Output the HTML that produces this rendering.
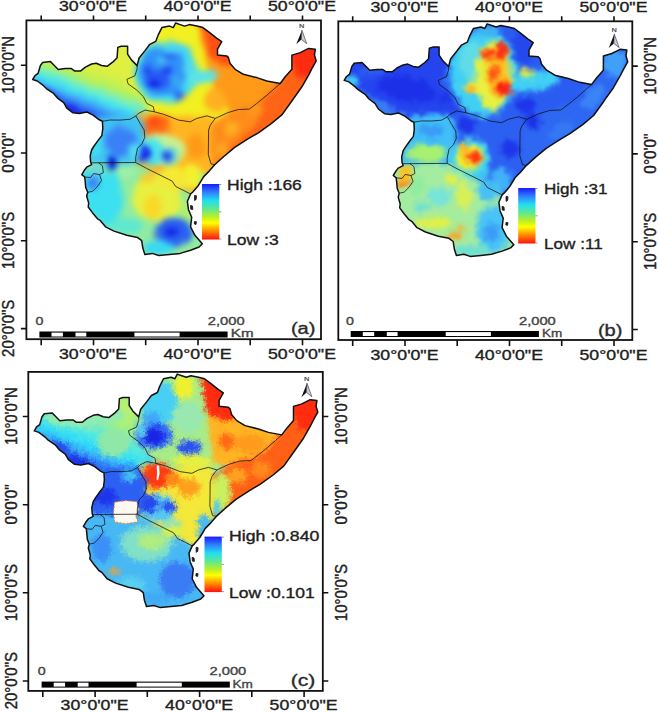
<!DOCTYPE html><html><head><meta charset="utf-8"><style>html,body{margin:0;padding:0;background:#fff;}svg{display:block}</style></head><body>
<svg width="658" height="712" viewBox="0 0 658 712">
<defs>
<clipPath id="clipmap"><path d="M32.7,79.5 L35.0,75.6 L38.1,73.3 L40.4,65.5 L42.7,62.4 L50.5,61.6 L53.6,64.7 L58.2,69.4 L65.2,68.6 L71.4,68.6 L74.5,70.9 L80.7,70.9 L85.4,67.1 L91.6,64.0 L96.2,63.2 L101.6,65.5 L107.1,66.3 L113.3,61.6 L117.1,57.8 L117.8,47.4 L121.2,46.2 L127.6,46.2 L127.6,54.2 L131.4,59.9 L137.1,65.6 L139.1,58.0 L145.2,50.4 L149.8,44.3 L155.8,41.3 L158.1,35.2 L161.9,27.6 L169.5,26.1 L173.3,27.6 L175.6,23.0 L180.2,24.6 L184.7,26.1 L189.3,24.6 L196.9,26.1 L202.9,27.6 L209.0,32.2 L216.6,38.2 L221.7,41.7 L217.5,49.2 L217.5,55.1 L226.7,55.9 L228.4,57.6 L230.1,63.4 L235.1,69.3 L243.4,74.3 L256.8,77.6 L266.8,81.0 L280.2,83.5 L285.2,76.8 L291.9,69.3 L291.9,55.1 L300.3,52.6 L308.6,48.4 L315.3,49.2 L314.5,55.1 L316.2,60.9 L312.0,68.4 L308.6,75.1 L301.9,86.8 L293.6,98.5 L291.3,101.8 L282.1,114.6 L271.2,123.7 L258.4,132.8 L247.5,139.2 L234.7,147.4 L223.8,156.5 L214.7,164.7 L209.2,171.1 L203.7,176.6 L198.2,185.7 L192.8,192.0 L190.6,194.0 L187.4,201.3 L188.5,209.8 L191.7,217.2 L190.6,226.8 L194.9,235.3 L202.3,243.8 L199.1,247.0 L190.6,250.2 L180.0,253.4 L169.4,254.5 L158.7,255.5 L152.3,253.4 L144.9,254.5 L142.8,248.1 L141.7,240.6 L137.4,237.4 L126.8,235.3 L114.0,231.1 L105.5,226.8 L100.2,220.4 L97.5,218.8 L92.6,212.9 L88.2,207.0 L88.7,203.1 L86.7,196.2 L87.7,192.3 L85.7,187.4 L85.2,181.5 L84.7,177.0 L81.8,174.6 L84.7,169.7 L86.7,167.2 L91.6,164.7 L90.6,161.8 L90.2,155.9 L91.6,150.0 L93.7,146.5 L98.3,140.1 L101.9,135.5 L102.8,128.2 L102.4,121.3 L99.3,119.8 L93.1,115.1 L86.9,112.0 L79.2,113.6 L73.0,112.8 L66.8,108.1 L63.7,102.7 L57.5,98.1 L53.6,93.4 L46.6,88.8 L43.5,85.7 L37.3,81.0Z"/></clipPath>
<filter id="blura" x="-10%" y="-10%" width="120%" height="120%" color-interpolation-filters="sRGB"><feGaussianBlur in="SourceGraphic" stdDeviation="2" result="sm"/><feTurbulence type="fractalNoise" baseFrequency="0.07" numOctaves="2" seed="3" result="nz"/><feDisplacementMap in="sm" in2="nz" scale="6" xChannelSelector="R" yChannelSelector="G" result="dp"/><feGaussianBlur in="dp" stdDeviation="2.2"/></filter>
<filter id="blurb" x="-10%" y="-10%" width="120%" height="120%" color-interpolation-filters="sRGB"><feGaussianBlur in="SourceGraphic" stdDeviation="2" result="sm"/><feTurbulence type="fractalNoise" baseFrequency="0.13" numOctaves="2" seed="7" result="nz"/><feDisplacementMap in="sm" in2="nz" scale="10" xChannelSelector="R" yChannelSelector="G" result="dp"/><feTurbulence type="fractalNoise" baseFrequency="0.45" numOctaves="1" seed="12" result="nz2"/><feDisplacementMap in="dp" in2="nz2" scale="4" xChannelSelector="R" yChannelSelector="G" result="dp2"/><feGaussianBlur in="dp2" stdDeviation="1.0"/></filter>
<filter id="blurc" x="-10%" y="-10%" width="120%" height="120%" color-interpolation-filters="sRGB"><feGaussianBlur in="SourceGraphic" stdDeviation="2" result="sm"/><feTurbulence type="fractalNoise" baseFrequency="0.22" numOctaves="2" seed="11" result="nz"/><feDisplacementMap in="sm" in2="nz" scale="9" xChannelSelector="R" yChannelSelector="G" result="dp"/><feTurbulence type="fractalNoise" baseFrequency="0.6" numOctaves="1" seed="16" result="nz2"/><feDisplacementMap in="dp" in2="nz2" scale="6" xChannelSelector="R" yChannelSelector="G" result="dp2"/><feGaussianBlur in="dp2" stdDeviation="0.5"/></filter>
<linearGradient id="cbar" x1="0" y1="0" x2="0" y2="1"><stop offset="0" stop-color="#1a1aff"/><stop offset="0.15" stop-color="#3080ff"/><stop offset="0.3" stop-color="#20e0f0"/><stop offset="0.45" stop-color="#60e890"/><stop offset="0.6" stop-color="#c0f020"/><stop offset="0.7" stop-color="#ffff00"/><stop offset="0.82" stop-color="#ffa000"/><stop offset="1" stop-color="#ff1010"/></linearGradient>
<linearGradient id="ssA" gradientUnits="userSpaceOnUse" x1="80" y1="118" x2="100" y2="66"><stop offset="0" stop-color="#1a2af0"/><stop offset="0.16" stop-color="#2a5cf5"/><stop offset="0.3" stop-color="#40a8f8"/><stop offset="0.42" stop-color="#40e4f2"/><stop offset="0.56" stop-color="#78f0c0"/><stop offset="0.68" stop-color="#b0f060"/><stop offset="0.85" stop-color="#d0f048"/><stop offset="1" stop-color="#e0f040"/></linearGradient>
<linearGradient id="ssC" gradientUnits="userSpaceOnUse" x1="80" y1="118" x2="100" y2="66"><stop offset="0" stop-color="#1a30e8"/><stop offset="0.12" stop-color="#2a5cf2"/><stop offset="0.28" stop-color="#38a0f8"/><stop offset="0.45" stop-color="#30dcf8"/><stop offset="0.7" stop-color="#58ecdc"/><stop offset="1" stop-color="#a8f078"/></linearGradient>
</defs>
<rect width="658" height="712" fill="#fff"/>
<g transform="translate(0,0) scale(1,1.0)">
  <g clip-path="url(#clipmap)"><g filter="url(#blura)"><rect x="20" y="20" width="300" height="240" fill="#f0f020"/><path d="M20.0,60.0 L60.0,50.0 L115.0,40.0 L128.0,40.0 L132.0,50.0 L140.0,68.0 L128.0,84.0 L140.0,96.0 L150.0,112.0 L140.0,118.0 L100.0,126.0 L60.0,118.0 L20.0,90.0Z" fill="url(#ssA)"/><ellipse cx="75" cy="110" rx="12" ry="4" fill="#1a28e8" transform="rotate(25 75 110)"/><ellipse cx="52" cy="94" rx="10" ry="3.5" fill="#2440ee" transform="rotate(35 52 94)"/><path d="M135.0,66.0 L140.0,50.0 L155.0,18.0 L215.0,18.0 L235.0,35.0 L235.0,55.0 L245.0,70.0 L280.0,80.0 L262.0,102.0 L215.0,120.0 L155.0,112.0 L145.0,100.0 L128.0,84.0Z" fill="#f2f020"/><path d="M196.0,18.0 L232.0,30.0 L238.0,60.0 L250.0,70.0 L284.0,78.0 L262.0,102.0 L230.0,112.0 L215.0,90.0 L205.0,60.0Z" fill="#ff9a18"/><path d="M200.0,20.0 L230.0,30.0 L236.0,56.0 L232.0,64.0 L222.0,66.0 L210.0,58.0Z" fill="#ff5014"/><ellipse cx="215" cy="100" rx="10" ry="12" fill="#ffb020"/><ellipse cx="166" cy="72" rx="32" ry="31" fill="#40dcf4"/><ellipse cx="200" cy="77" rx="18" ry="7" fill="#58e4e8" transform="rotate(-10 200 77)"/><ellipse cx="163" cy="71" rx="24" ry="25" fill="#3090f8"/><ellipse cx="157" cy="80" rx="13" ry="10" fill="#2858f4"/><ellipse cx="154" cy="84" rx="7" ry="4" fill="#1020e8"/><ellipse cx="167" cy="70" rx="5" ry="4" fill="#1a30ee"/><ellipse cx="147" cy="70" rx="4" ry="5" fill="#1a40f0"/><ellipse cx="170" cy="55" rx="6" ry="4" fill="#2a50f2"/><ellipse cx="180" cy="95" rx="6" ry="4" fill="#2a58f2"/><ellipse cx="176" cy="82" rx="6" ry="5" fill="#38a8f6"/><ellipse cx="176" cy="49" rx="13" ry="5" fill="#48d4f4"/><ellipse cx="188" cy="68" rx="5" ry="8" fill="#50d8f0"/><ellipse cx="162" cy="60" rx="5" ry="4" fill="#48c8f4"/><path d="M280.0,80.0 L288.0,40.0 L325.0,40.0 L325.0,72.0 L300.0,100.0 L275.0,130.0 L235.0,165.0 L216.0,172.0 L206.0,128.0 L230.0,112.0 L262.0,102.0Z" fill="#ff6416"/><path d="M288.0,40.0 L325.0,40.0 L325.0,72.0 L300.0,80.0 L290.0,62.0Z" fill="#ff2c10"/><path d="M204.0,126.0 L240.0,108.0 L262.0,112.0 L250.0,130.0 L226.0,152.0 L212.0,168.0Z" fill="#ff8c1a"/><ellipse cx="232" cy="128" rx="7" ry="7" fill="#ffb020"/><ellipse cx="256" cy="110" rx="8" ry="5" fill="#ff9a1c"/><ellipse cx="223" cy="150" rx="6" ry="8" fill="#ffa820"/><path d="M136.0,112.0 L175.0,116.0 L212.0,116.0 L212.0,166.0 L216.0,170.0 L200.0,200.0 L150.0,174.0 L135.0,163.0 L138.0,140.0Z" fill="#ffb420"/><ellipse cx="156" cy="126" rx="14" ry="12" fill="#ff6a14"/><ellipse cx="154" cy="122" rx="6" ry="5" fill="#ff4a10"/><ellipse cx="196" cy="146" rx="10" ry="12" fill="#ff9a18"/><ellipse cx="160" cy="150" rx="26" ry="16" fill="#c8f090"/><ellipse cx="150" cy="152" rx="15" ry="13" fill="#48e4f0"/><ellipse cx="168" cy="155" rx="10" ry="8" fill="#60e0e0"/><ellipse cx="144" cy="154" rx="7" ry="9" fill="#1a24ea"/><ellipse cx="167.5" cy="155.8" rx="5.5" ry="4.2" fill="#1a34ea" transform="rotate(-30 167.5 155.8)"/><ellipse cx="160" cy="168" rx="4" ry="3" fill="#ffa020"/><ellipse cx="172" cy="172" rx="10" ry="6" fill="#f4f030"/><ellipse cx="192" cy="176" rx="10" ry="13" fill="#f4f030"/><ellipse cx="172" cy="181" rx="5" ry="3.5" fill="#50d0f0"/><ellipse cx="202" cy="180" rx="4" ry="8" fill="#b0f070"/><path d="M80.0,118.0 L138.0,114.0 L146.0,132.0 L138.0,163.0 L80.0,164.0Z" fill="#40c0f4"/><ellipse cx="120" cy="142" rx="16" ry="15" fill="#3a80f6"/><ellipse cx="96" cy="145" rx="6" ry="12" fill="#40e0f0"/><ellipse cx="134" cy="152" rx="5" ry="8" fill="#50e0f0"/><path d="M70.0,163.0 L136.0,163.0 L192.0,194.0 L210.0,250.0 L140.0,265.0 L100.0,235.0 L70.0,190.0Z" fill="#90eca0"/><path d="M80.0,170.0 L118.0,170.0 L124.0,205.0 L110.0,232.0 L90.0,215.0 L80.0,190.0Z" fill="#3ce0f0"/><ellipse cx="112" cy="168" rx="16" ry="5" fill="#70ecc0"/><ellipse cx="157" cy="197" rx="25" ry="24" fill="#e8f040"/><ellipse cx="126" cy="172" rx="10" ry="6" fill="#a0f0a8"/><ellipse cx="172" cy="182" rx="14" ry="9" fill="#f4e838"/><ellipse cx="153" cy="207" rx="9" ry="12" fill="#fad828"/><ellipse cx="148" cy="178" rx="8" ry="5" fill="#ffc828"/><ellipse cx="174" cy="232" rx="19" ry="14" fill="#2a60f2"/><ellipse cx="171" cy="232" rx="7" ry="4" fill="#1020e6"/><ellipse cx="158" cy="248" rx="16" ry="7" fill="#38d8f4"/><ellipse cx="186" cy="212" rx="5" ry="9" fill="#b8f060"/><ellipse cx="96" cy="172" rx="6" ry="5" fill="#70d0e0"/><ellipse cx="93" cy="183" rx="6" ry="6" fill="#3a80f6"/><ellipse cx="125" cy="226" rx="18" ry="8" fill="#60e8d0"/><ellipse cx="111.5" cy="163.5" rx="5.5" ry="6.5" fill="#0008d8"/></g></g>
  <path d="M32.7,79.5 L35.0,75.6 L38.1,73.3 L40.4,65.5 L42.7,62.4 L50.5,61.6 L53.6,64.7 L58.2,69.4 L65.2,68.6 L71.4,68.6 L74.5,70.9 L80.7,70.9 L85.4,67.1 L91.6,64.0 L96.2,63.2 L101.6,65.5 L107.1,66.3 L113.3,61.6 L117.1,57.8 L117.8,47.4 L121.2,46.2 L127.6,46.2 L127.6,54.2 L131.4,59.9 L137.1,65.6 L139.1,58.0 L145.2,50.4 L149.8,44.3 L155.8,41.3 L158.1,35.2 L161.9,27.6 L169.5,26.1 L173.3,27.6 L175.6,23.0 L180.2,24.6 L184.7,26.1 L189.3,24.6 L196.9,26.1 L202.9,27.6 L209.0,32.2 L216.6,38.2 L221.7,41.7 L217.5,49.2 L217.5,55.1 L226.7,55.9 L228.4,57.6 L230.1,63.4 L235.1,69.3 L243.4,74.3 L256.8,77.6 L266.8,81.0 L280.2,83.5 L285.2,76.8 L291.9,69.3 L291.9,55.1 L300.3,52.6 L308.6,48.4 L315.3,49.2 L314.5,55.1 L316.2,60.9 L312.0,68.4 L308.6,75.1 L301.9,86.8 L293.6,98.5 L291.3,101.8 L282.1,114.6 L271.2,123.7 L258.4,132.8 L247.5,139.2 L234.7,147.4 L223.8,156.5 L214.7,164.7 L209.2,171.1 L203.7,176.6 L198.2,185.7 L192.8,192.0 L190.6,194.0 L187.4,201.3 L188.5,209.8 L191.7,217.2 L190.6,226.8 L194.9,235.3 L202.3,243.8 L199.1,247.0 L190.6,250.2 L180.0,253.4 L169.4,254.5 L158.7,255.5 L152.3,253.4 L144.9,254.5 L142.8,248.1 L141.7,240.6 L137.4,237.4 L126.8,235.3 L114.0,231.1 L105.5,226.8 L100.2,220.4 L97.5,218.8 L92.6,212.9 L88.2,207.0 L88.7,203.1 L86.7,196.2 L87.7,192.3 L85.7,187.4 L85.2,181.5 L84.7,177.0 L81.8,174.6 L84.7,169.7 L86.7,167.2 L91.6,164.7 L90.6,161.8 L90.2,155.9 L91.6,150.0 L93.7,146.5 L98.3,140.1 L101.9,135.5 L102.8,128.2 L102.4,121.3 L99.3,119.8 L93.1,115.1 L86.9,112.0 L79.2,113.6 L73.0,112.8 L66.8,108.1 L63.7,102.7 L57.5,98.1 L53.6,93.4 L46.6,88.8 L43.5,85.7 L37.3,81.0Z" fill="none" stroke="#111" stroke-width="1.5" stroke-linejoin="round"/>
  <path d="M137.1,65.6 L137.1,69.0 L134.9,75.8 L126.9,79.3 L128.0,83.8 L136.7,90.0 L143.4,96.7 L146.7,103.4 L153.4,106.7 L154.3,111.8 M154.3,111.8 L145.1,110.1 L138.4,113.4 L135.9,115.9 L130.0,119.3 L120.0,120.1 L110.1,120.0 L102.4,121.3 M154.3,111.8 L163.5,114.3 L170.2,116.8 L178.5,120.1 L190.2,121.8 L196.9,118.4 L206.9,115.9 L215.3,118.4 M215.3,118.4 L227.4,112.8 L238.4,109.5 L249.3,109.1 L256.6,103.6 L266.0,96.0 L274.0,89.0 L280.2,83.5 M215.3,118.4 L210.3,125.1 L208.6,130.1 L208.3,154.7 L211.0,163.8 L214.7,164.7 M135.9,115.9 L140.1,123.5 L144.2,130.1 L144.8,137.4 L142.0,143.7 L137.5,148.3 L135.7,157.4 L135.7,162.5 M91.6,162.8 L135.7,162.5 M135.7,162.5 L146.6,168.4 L157.5,173.8 L168.5,179.3 L172.1,181.1 L175.8,186.6 L183.1,190.2 L190.6,194.0 M98.5,162.8 L102.4,165.7 L103.4,172.6 L99.5,174.6 M99.5,174.6 L93.6,173.6 L90.6,177.5 L84.7,177.0 M99.5,174.6 L101.5,180.5 L97.5,186.4 L92.6,191.3 L87.7,192.3" fill="none" stroke="#111" stroke-width="0.9" stroke-linejoin="round" opacity="0.85"/>
  <path d="M194.5,195.5 L196.5,195.8 L196.2,199.5 L194.6,200.5Z M190.5,205.5 L192.5,206.0 L192.8,209.5 L190.8,209.2Z M194.5,221.5 L196.5,221.8 L196.0,224.5 L194.3,224.0Z" fill="#222" stroke="#111" stroke-width="0.8"/>
</g>
<rect x="26.4" y="20.4" width="294.6" height="318.8" fill="none" stroke="#111" stroke-width="1.8"/>
<path d="M41.2,15.399999999999999 V20.4 M41.2,339.2 V345.2 M93.5,15.399999999999999 V20.4 M93.5,339.2 V345.2 M145.7,15.399999999999999 V20.4 M145.7,339.2 V345.2 M198.0,15.399999999999999 V20.4 M198.0,339.2 V345.2 M250.2,15.399999999999999 V20.4 M250.2,339.2 V345.2 M302.5,15.399999999999999 V20.4 M302.5,339.2 V345.2 M20.9,65.2 H26.4 M20.9,153.0 H26.4 M20.9,240.8 H26.4 M20.9,328.6 H26.4" stroke="#111" stroke-width="1.6" fill="none"/><text x="59.01" y="11.2" textLength="67.98" lengthAdjust="spacingAndGlyphs" font-family="Liberation Sans, sans-serif" font-size="14" fill="#1e1e1e" stroke="#1e1e1e" stroke-width="0.35">30°0'0"E</text><text x="59.01" y="359.1" textLength="67.98" lengthAdjust="spacingAndGlyphs" font-family="Liberation Sans, sans-serif" font-size="14" fill="#1e1e1e" stroke="#1e1e1e" stroke-width="0.35">30°0'0"E</text><text x="163.51" y="11.2" textLength="67.98" lengthAdjust="spacingAndGlyphs" font-family="Liberation Sans, sans-serif" font-size="14" fill="#1e1e1e" stroke="#1e1e1e" stroke-width="0.35">40°0'0"E</text><text x="163.51" y="359.1" textLength="67.98" lengthAdjust="spacingAndGlyphs" font-family="Liberation Sans, sans-serif" font-size="14" fill="#1e1e1e" stroke="#1e1e1e" stroke-width="0.35">40°0'0"E</text><text x="268.01" y="11.2" textLength="67.98" lengthAdjust="spacingAndGlyphs" font-family="Liberation Sans, sans-serif" font-size="14" fill="#1e1e1e" stroke="#1e1e1e" stroke-width="0.35">50°0'0"E</text><text x="268.01" y="359.1" textLength="67.98" lengthAdjust="spacingAndGlyphs" font-family="Liberation Sans, sans-serif" font-size="14" fill="#1e1e1e" stroke="#1e1e1e" stroke-width="0.35">50°0'0"E</text><text transform="translate(14.1,64.9) scale(1.19,1) rotate(-90)" x="-28.84" y="0" textLength="57.68" lengthAdjust="spacingAndGlyphs" font-family="Liberation Sans, sans-serif" font-size="14" fill="#1e1e1e" stroke="#1e1e1e" stroke-width="0.35">10°0'0"N</text><text transform="translate(14.1,152.7) scale(1.19,1) rotate(-90)" x="-20.04" y="0" textLength="40.08" lengthAdjust="spacingAndGlyphs" font-family="Liberation Sans, sans-serif" font-size="14" fill="#1e1e1e" stroke="#1e1e1e" stroke-width="0.35">0°0'0"</text><text transform="translate(14.1,240.5) scale(1.19,1) rotate(-90)" x="-28.59" y="0" textLength="57.18" lengthAdjust="spacingAndGlyphs" font-family="Liberation Sans, sans-serif" font-size="14" fill="#1e1e1e" stroke="#1e1e1e" stroke-width="0.35">10°0'0"S</text><text transform="translate(14.1,328.3) scale(1.19,1) rotate(-90)" x="-28.59" y="0" textLength="57.18" lengthAdjust="spacingAndGlyphs" font-family="Liberation Sans, sans-serif" font-size="14" fill="#1e1e1e" stroke="#1e1e1e" stroke-width="0.35">20°0'0"S</text>
<rect x="202" y="184" width="17.3" height="55.5" fill="url(#cbar)"/><path d="M219.3,184.5h2 M219.3,211.8h2 M219.3,239.0h2" stroke="#777" stroke-width="0.8"/><text x="227.03" y="189.5" textLength="74.84" lengthAdjust="spacingAndGlyphs" font-family="Liberation Sans, sans-serif" font-size="14.5" fill="#1e1e1e" stroke="#1e1e1e" stroke-width="0.35">High :166</text><text x="227.03" y="244.9" textLength="51.64" lengthAdjust="spacingAndGlyphs" font-family="Liberation Sans, sans-serif" font-size="14.5" fill="#1e1e1e" stroke="#1e1e1e" stroke-width="0.35">Low :3</text>
<text x="299.0" y="27.8" textLength="5.4" lengthAdjust="spacingAndGlyphs" font-family="Liberation Sans, sans-serif" font-size="5.2" font-weight="bold" fill="#555">N</text><path d="M301.9,30.2 L296.29999999999995,44.2 L301.4,39.5Z" fill="#111"/><path d="M301.9,30.2 L306.79999999999995,43.8 L301.4,39.5Z" fill="#ccd" stroke="#333" stroke-width="0.6"/>
<rect x="39.4" y="331.5" width="188.2" height="6" fill="#000"/><rect x="51.5" y="332.6" width="11.399999999999999" height="3.9" fill="#fff"/><rect x="75.5" y="332.6" width="10.800000000000002" height="3.9" fill="#fff"/><rect x="134.39999999999998" y="332.6" width="45.20000000000001" height="3.9" fill="#fff"/><text x="35.54" y="324.5" textLength="7.92" lengthAdjust="spacingAndGlyphs" font-family="Liberation Sans, sans-serif" font-size="11" fill="#444" stroke="#444" stroke-width="0.35">0</text><text x="207.84" y="324.6" textLength="36.72" lengthAdjust="spacingAndGlyphs" font-family="Liberation Sans, sans-serif" font-size="11" fill="#444" stroke="#444" stroke-width="0.35">2,000</text><text x="230.81" y="336.6" textLength="22.78" lengthAdjust="spacingAndGlyphs" font-family="Liberation Sans, sans-serif" font-size="11.5" fill="#444" stroke="#444" stroke-width="0.35">Km</text><text x="290.94" y="334.3" textLength="24.52" lengthAdjust="spacingAndGlyphs" font-family="Liberation Sans, sans-serif" font-size="16" fill="#2a2a2a" stroke="#2a2a2a" stroke-width="0.35">(a)</text>
<g transform="translate(311.5,0.9) scale(1,1.0)">
  <g clip-path="url(#clipmap)"><g filter="url(#blurb)"><rect x="20" y="20" width="300" height="240" fill="#2a58f2"/><path d="M20.0,60.0 L60.0,50.0 L115.0,40.0 L128.0,40.0 L132.0,50.0 L140.0,68.0 L128.0,84.0 L140.0,96.0 L150.0,112.0 L140.0,118.0 L100.0,126.0 L60.0,118.0 L20.0,90.0Z" fill="#2444ee"/><ellipse cx="38" cy="80" rx="9" ry="6" fill="#40c8f8"/><path d="M40.0,84.0 L60.0,96.0 L90.0,112.0 L100.0,118.0 L90.0,122.0 L60.0,108.0 L40.0,92.0Z" fill="#3a80f6"/><ellipse cx="95" cy="88" rx="30" ry="12" fill="#1c30ea" transform="rotate(10 95 88)"/><ellipse cx="120" cy="118" rx="20" ry="5" fill="#40b8f8"/><ellipse cx="60" cy="70" rx="14" ry="6" fill="#2c5cf2"/><path d="M135.0,66.0 L140.0,50.0 L155.0,18.0 L215.0,18.0 L235.0,35.0 L235.0,55.0 L245.0,70.0 L280.0,80.0 L262.0,102.0 L215.0,120.0 L155.0,112.0 L145.0,100.0 L128.0,84.0Z" fill="#2a5cf2"/><ellipse cx="172" cy="72" rx="34" ry="44" fill="#40d0f4"/><ellipse cx="222" cy="80" rx="26" ry="10" fill="#40d0f4" transform="rotate(-8 222 80)"/><ellipse cx="216" cy="72" rx="8" ry="4" fill="#e8f040"/><ellipse cx="160" cy="60" rx="12" ry="18" fill="#60dce8"/><ellipse cx="182" cy="74" rx="18" ry="34" fill="#e4f040"/><ellipse cx="166" cy="86" rx="12" ry="8" fill="#ecf040"/><ellipse cx="182" cy="104" rx="6" ry="8" fill="#e8f040"/><ellipse cx="186" cy="70" rx="11" ry="26" fill="#ffc020"/><ellipse cx="176" cy="54" rx="7" ry="5" fill="#ff3a12"/><ellipse cx="190" cy="50" rx="5" ry="9" fill="#ff2a10"/><ellipse cx="182" cy="72" rx="5" ry="7" fill="#ff5014"/><ellipse cx="193" cy="88" rx="8" ry="7" fill="#ff1e10"/><ellipse cx="160" cy="88" rx="5" ry="4" fill="#ffb020"/><ellipse cx="212" cy="45" rx="12" ry="18" fill="#2448ee"/><ellipse cx="214" cy="104" rx="10" ry="8" fill="#1e36ea"/><ellipse cx="134" cy="98" rx="8" ry="6" fill="#1e36ea"/><ellipse cx="176" cy="30" rx="14" ry="5" fill="#40b0f4"/><path d="M280.0,80.0 L288.0,40.0 L325.0,40.0 L325.0,72.0 L300.0,100.0 L275.0,130.0 L235.0,165.0 L216.0,172.0 L206.0,128.0 L230.0,112.0 L262.0,102.0Z" fill="#2e68f2"/><ellipse cx="302" cy="62" rx="12" ry="14" fill="#40a0f8"/><ellipse cx="282" cy="96" rx="14" ry="8" fill="#3a84f6" transform="rotate(-45 282 96)"/><ellipse cx="250" cy="130" rx="14" ry="6" fill="#3478f4" transform="rotate(-35 250 130)"/><ellipse cx="222" cy="120" rx="8" ry="8" fill="#1a30e8"/><path d="M136.0,112.0 L175.0,116.0 L212.0,116.0 L212.0,166.0 L216.0,170.0 L200.0,200.0 L150.0,174.0 L135.0,163.0 L138.0,140.0Z" fill="#2c60f2"/><ellipse cx="156" cy="124" rx="9" ry="8" fill="#1e36ea"/><ellipse cx="164" cy="165" rx="14" ry="24" fill="#40c0f4"/><ellipse cx="158" cy="156" rx="20" ry="18" fill="#40d8f4"/><ellipse cx="158" cy="156" rx="14" ry="13" fill="#f0f030"/><ellipse cx="162" cy="157" rx="9" ry="6" fill="#ff6a14"/><ellipse cx="163" cy="156" rx="5" ry="4" fill="#ff2a10"/><ellipse cx="152" cy="147" rx="5" ry="6" fill="#ffb020"/><ellipse cx="198" cy="148" rx="10" ry="8" fill="#1e36ea"/><ellipse cx="190" cy="178" rx="10" ry="12" fill="#40b0f8"/><path d="M80.0,118.0 L138.0,114.0 L146.0,132.0 L138.0,163.0 L80.0,164.0Z" fill="#40c0f8"/><ellipse cx="116" cy="152" rx="20" ry="9" fill="#a8f070"/><ellipse cx="120" cy="130" rx="14" ry="7" fill="#3a9cf6"/><path d="M70.0,163.0 L136.0,163.0 L192.0,194.0 L210.0,250.0 L140.0,265.0 L100.0,235.0 L70.0,190.0Z" fill="#a4eca0"/><ellipse cx="182" cy="228" rx="17" ry="24" fill="#48c4f6"/><ellipse cx="180" cy="232" rx="7" ry="10" fill="#3a9cf6"/><ellipse cx="178" cy="190" rx="12" ry="10" fill="#48c0f4"/><ellipse cx="160" cy="250" rx="22" ry="6" fill="#70e0d0"/><ellipse cx="143" cy="235" rx="8" ry="4" fill="#ffa020"/><ellipse cx="149" cy="226" rx="4" ry="3" fill="#ffb020"/><ellipse cx="122" cy="222" rx="18" ry="6" fill="#e0f048"/><ellipse cx="128" cy="195" rx="12" ry="10" fill="#78e4d8"/><ellipse cx="152" cy="196" rx="8" ry="14" fill="#d8f058"/><ellipse cx="140" cy="178" rx="6" ry="5" fill="#e8f040"/><ellipse cx="105" cy="185" rx="8" ry="10" fill="#90eca0"/><ellipse cx="110" cy="206" rx="8" ry="6" fill="#70e0d0"/><ellipse cx="94" cy="172" rx="8" ry="7" fill="#ffc020"/><ellipse cx="92" cy="183" rx="5" ry="5" fill="#ff8818"/></g></g>
  <path d="M32.7,79.5 L35.0,75.6 L38.1,73.3 L40.4,65.5 L42.7,62.4 L50.5,61.6 L53.6,64.7 L58.2,69.4 L65.2,68.6 L71.4,68.6 L74.5,70.9 L80.7,70.9 L85.4,67.1 L91.6,64.0 L96.2,63.2 L101.6,65.5 L107.1,66.3 L113.3,61.6 L117.1,57.8 L117.8,47.4 L121.2,46.2 L127.6,46.2 L127.6,54.2 L131.4,59.9 L137.1,65.6 L139.1,58.0 L145.2,50.4 L149.8,44.3 L155.8,41.3 L158.1,35.2 L161.9,27.6 L169.5,26.1 L173.3,27.6 L175.6,23.0 L180.2,24.6 L184.7,26.1 L189.3,24.6 L196.9,26.1 L202.9,27.6 L209.0,32.2 L216.6,38.2 L221.7,41.7 L217.5,49.2 L217.5,55.1 L226.7,55.9 L228.4,57.6 L230.1,63.4 L235.1,69.3 L243.4,74.3 L256.8,77.6 L266.8,81.0 L280.2,83.5 L285.2,76.8 L291.9,69.3 L291.9,55.1 L300.3,52.6 L308.6,48.4 L315.3,49.2 L314.5,55.1 L316.2,60.9 L312.0,68.4 L308.6,75.1 L301.9,86.8 L293.6,98.5 L291.3,101.8 L282.1,114.6 L271.2,123.7 L258.4,132.8 L247.5,139.2 L234.7,147.4 L223.8,156.5 L214.7,164.7 L209.2,171.1 L203.7,176.6 L198.2,185.7 L192.8,192.0 L190.6,194.0 L187.4,201.3 L188.5,209.8 L191.7,217.2 L190.6,226.8 L194.9,235.3 L202.3,243.8 L199.1,247.0 L190.6,250.2 L180.0,253.4 L169.4,254.5 L158.7,255.5 L152.3,253.4 L144.9,254.5 L142.8,248.1 L141.7,240.6 L137.4,237.4 L126.8,235.3 L114.0,231.1 L105.5,226.8 L100.2,220.4 L97.5,218.8 L92.6,212.9 L88.2,207.0 L88.7,203.1 L86.7,196.2 L87.7,192.3 L85.7,187.4 L85.2,181.5 L84.7,177.0 L81.8,174.6 L84.7,169.7 L86.7,167.2 L91.6,164.7 L90.6,161.8 L90.2,155.9 L91.6,150.0 L93.7,146.5 L98.3,140.1 L101.9,135.5 L102.8,128.2 L102.4,121.3 L99.3,119.8 L93.1,115.1 L86.9,112.0 L79.2,113.6 L73.0,112.8 L66.8,108.1 L63.7,102.7 L57.5,98.1 L53.6,93.4 L46.6,88.8 L43.5,85.7 L37.3,81.0Z" fill="none" stroke="#111" stroke-width="1.5" stroke-linejoin="round"/>
  <path d="M137.1,65.6 L137.1,69.0 L134.9,75.8 L126.9,79.3 L128.0,83.8 L136.7,90.0 L143.4,96.7 L146.7,103.4 L153.4,106.7 L154.3,111.8 M154.3,111.8 L145.1,110.1 L138.4,113.4 L135.9,115.9 L130.0,119.3 L120.0,120.1 L110.1,120.0 L102.4,121.3 M154.3,111.8 L163.5,114.3 L170.2,116.8 L178.5,120.1 L190.2,121.8 L196.9,118.4 L206.9,115.9 L215.3,118.4 M215.3,118.4 L227.4,112.8 L238.4,109.5 L249.3,109.1 L256.6,103.6 L266.0,96.0 L274.0,89.0 L280.2,83.5 M215.3,118.4 L210.3,125.1 L208.6,130.1 L208.3,154.7 L211.0,163.8 L214.7,164.7 M135.9,115.9 L140.1,123.5 L144.2,130.1 L144.8,137.4 L142.0,143.7 L137.5,148.3 L135.7,157.4 L135.7,162.5 M91.6,162.8 L135.7,162.5 M135.7,162.5 L146.6,168.4 L157.5,173.8 L168.5,179.3 L172.1,181.1 L175.8,186.6 L183.1,190.2 L190.6,194.0 M98.5,162.8 L102.4,165.7 L103.4,172.6 L99.5,174.6 M99.5,174.6 L93.6,173.6 L90.6,177.5 L84.7,177.0 M99.5,174.6 L101.5,180.5 L97.5,186.4 L92.6,191.3 L87.7,192.3" fill="none" stroke="#111" stroke-width="0.9" stroke-linejoin="round" opacity="0.85"/>
  <path d="M194.5,195.5 L196.5,195.8 L196.2,199.5 L194.6,200.5Z M190.5,205.5 L192.5,206.0 L192.8,209.5 L190.8,209.2Z M194.5,221.5 L196.5,221.8 L196.0,224.5 L194.3,224.0Z" fill="#222" stroke="#111" stroke-width="0.8"/>
</g>
<rect x="338.3" y="21.3" width="293.99999999999994" height="318.7" fill="none" stroke="#111" stroke-width="1.8"/>
<path d="M352.7,16.3 V21.3 M352.7,340.0 V346.0 M405.0,16.3 V21.3 M405.0,340.0 V346.0 M457.2,16.3 V21.3 M457.2,340.0 V346.0 M509.5,16.3 V21.3 M509.5,340.0 V346.0 M561.7,16.3 V21.3 M561.7,340.0 V346.0 M614.0,16.3 V21.3 M614.0,340.0 V346.0 M632.3,66.1 H637.8 M632.3,153.9 H637.8 M632.3,241.7 H637.8 M632.3,329.5 H637.8" stroke="#111" stroke-width="1.6" fill="none"/><text x="370.51" y="12.1" textLength="67.98" lengthAdjust="spacingAndGlyphs" font-family="Liberation Sans, sans-serif" font-size="14" fill="#1e1e1e" stroke="#1e1e1e" stroke-width="0.35">30°0'0"E</text><text x="370.51" y="359.8" textLength="67.98" lengthAdjust="spacingAndGlyphs" font-family="Liberation Sans, sans-serif" font-size="14" fill="#1e1e1e" stroke="#1e1e1e" stroke-width="0.35">30°0'0"E</text><text x="475.01" y="12.1" textLength="67.98" lengthAdjust="spacingAndGlyphs" font-family="Liberation Sans, sans-serif" font-size="14" fill="#1e1e1e" stroke="#1e1e1e" stroke-width="0.35">40°0'0"E</text><text x="475.01" y="359.8" textLength="67.98" lengthAdjust="spacingAndGlyphs" font-family="Liberation Sans, sans-serif" font-size="14" fill="#1e1e1e" stroke="#1e1e1e" stroke-width="0.35">40°0'0"E</text><text x="579.51" y="12.1" textLength="67.98" lengthAdjust="spacingAndGlyphs" font-family="Liberation Sans, sans-serif" font-size="14" fill="#1e1e1e" stroke="#1e1e1e" stroke-width="0.35">50°0'0"E</text><text x="579.51" y="359.8" textLength="67.98" lengthAdjust="spacingAndGlyphs" font-family="Liberation Sans, sans-serif" font-size="14" fill="#1e1e1e" stroke="#1e1e1e" stroke-width="0.35">50°0'0"E</text><text transform="translate(655.7,65.80000000000001) scale(1.19,1) rotate(-90)" x="-28.84" y="0" textLength="57.68" lengthAdjust="spacingAndGlyphs" font-family="Liberation Sans, sans-serif" font-size="14" fill="#1e1e1e" stroke="#1e1e1e" stroke-width="0.35">10°0'0"N</text><text transform="translate(655.7,153.6) scale(1.19,1) rotate(-90)" x="-20.04" y="0" textLength="40.08" lengthAdjust="spacingAndGlyphs" font-family="Liberation Sans, sans-serif" font-size="14" fill="#1e1e1e" stroke="#1e1e1e" stroke-width="0.35">0°0'0"</text><text transform="translate(655.7,241.40000000000003) scale(1.19,1) rotate(-90)" x="-28.59" y="0" textLength="57.18" lengthAdjust="spacingAndGlyphs" font-family="Liberation Sans, sans-serif" font-size="14" fill="#1e1e1e" stroke="#1e1e1e" stroke-width="0.35">10°0'0"S</text>
<rect x="518.2" y="188" width="17.3" height="55.5" fill="url(#cbar)"/><path d="M535.5,188.5h2 M535.5,215.8h2 M535.5,243.0h2" stroke="#777" stroke-width="0.8"/><text x="544.00" y="194" textLength="63.50" lengthAdjust="spacingAndGlyphs" font-family="Liberation Sans, sans-serif" font-size="15" fill="#1e1e1e" stroke="#1e1e1e" stroke-width="0.35">High :31</text><text x="544.00" y="248.7" textLength="58.70" lengthAdjust="spacingAndGlyphs" font-family="Liberation Sans, sans-serif" font-size="15" fill="#1e1e1e" stroke="#1e1e1e" stroke-width="0.35">Low :11</text>
<text x="611.4" y="31.700000000000003" textLength="5.4" lengthAdjust="spacingAndGlyphs" font-family="Liberation Sans, sans-serif" font-size="5.2" font-weight="bold" fill="#555">N</text><path d="M614.3,34.1 L608.6999999999999,48.1 L613.8,43.400000000000006Z" fill="#111"/><path d="M614.3,34.1 L619.1999999999999,47.7 L613.8,43.400000000000006Z" fill="#ccd" stroke="#333" stroke-width="0.6"/>
<rect x="350.7" y="331.0" width="188.2" height="6" fill="#000"/><rect x="362.79999999999995" y="332.1" width="11.399999999999999" height="3.9" fill="#fff"/><rect x="386.79999999999995" y="332.1" width="10.800000000000002" height="3.9" fill="#fff"/><rect x="445.7" y="332.1" width="45.20000000000001" height="3.9" fill="#fff"/><text x="345.94" y="324.7" textLength="7.92" lengthAdjust="spacingAndGlyphs" font-family="Liberation Sans, sans-serif" font-size="11" fill="#444" stroke="#444" stroke-width="0.35">0</text><text x="519.04" y="324.8" textLength="36.72" lengthAdjust="spacingAndGlyphs" font-family="Liberation Sans, sans-serif" font-size="11" fill="#444" stroke="#444" stroke-width="0.35">2,000</text><text x="541.91" y="336.8" textLength="20.28" lengthAdjust="spacingAndGlyphs" font-family="Liberation Sans, sans-serif" font-size="11.5" fill="#444" stroke="#444" stroke-width="0.35">Km</text><text x="597.94" y="335.5" textLength="24.52" lengthAdjust="spacingAndGlyphs" font-family="Liberation Sans, sans-serif" font-size="16" fill="#2a2a2a" stroke="#2a2a2a" stroke-width="0.35">(b)</text>
<g transform="translate(1.6,351.03000000000003) scale(1,1.0042)">
  <g clip-path="url(#clipmap)"><g filter="url(#blurc)"><rect x="20" y="20" width="300" height="240" fill="#48c4f4"/><path d="M20.0,60.0 L60.0,50.0 L115.0,40.0 L128.0,40.0 L132.0,50.0 L140.0,68.0 L128.0,84.0 L140.0,96.0 L150.0,112.0 L140.0,118.0 L100.0,126.0 L60.0,118.0 L20.0,90.0Z" fill="url(#ssC)"/><ellipse cx="112" cy="92" rx="16" ry="14" fill="#90e8a8"/><ellipse cx="124" cy="60" rx="6" ry="14" fill="#b8f070"/><ellipse cx="80" cy="110" rx="14" ry="4" fill="#1a30e6" transform="rotate(25 80 110)"/><ellipse cx="60" cy="95" rx="10" ry="4" fill="#2448ee" transform="rotate(30 60 95)"/><ellipse cx="92" cy="74" rx="12" ry="5" fill="#78e8c0"/><path d="M40.0,64.0 L55.0,60.0 L90.0,62.0 L118.0,58.0 L126.0,66.0 L110.0,72.0 L80.0,76.0 L50.0,74.0Z" fill="#90ecb0"/><path d="M135.0,66.0 L140.0,50.0 L155.0,18.0 L215.0,18.0 L235.0,35.0 L235.0,55.0 L245.0,70.0 L280.0,80.0 L262.0,102.0 L215.0,120.0 L155.0,112.0 L145.0,100.0 L128.0,84.0Z" fill="#a8ec88"/><ellipse cx="158" cy="52" rx="20" ry="22" fill="#48d0f4"/><ellipse cx="182" cy="36" rx="10" ry="12" fill="#f0f030"/><ellipse cx="186" cy="66" rx="16" ry="16" fill="#98e8b0"/><path d="M204.0,18.0 L232.0,30.0 L238.0,60.0 L250.0,70.0 L284.0,78.0 L262.0,102.0 L232.0,116.0 L212.0,112.0 L206.0,70.0Z" fill="#ffb424"/><path d="M198.0,20.0 L230.0,30.0 L236.0,56.0 L234.0,66.0 L224.0,70.0 L205.0,62.0Z" fill="#ff2c10"/><ellipse cx="225" cy="90" rx="8" ry="8" fill="#ff6a14"/><ellipse cx="248" cy="92" rx="16" ry="9" fill="#ff9a1c"/><ellipse cx="152" cy="84" rx="19" ry="14" fill="#3068f4"/><ellipse cx="152" cy="85" rx="11" ry="8" fill="#1a24e4"/><ellipse cx="188" cy="96" rx="12" ry="7" fill="#2a50f0"/><ellipse cx="150" cy="66" rx="8" ry="6" fill="#40a8f8"/><ellipse cx="190" cy="110" rx="20" ry="6" fill="#e8f040"/><ellipse cx="140" cy="78" rx="5" ry="10" fill="#58c8f0"/><path d="M280.0,80.0 L288.0,40.0 L325.0,40.0 L325.0,72.0 L300.0,100.0 L275.0,130.0 L235.0,165.0 L216.0,172.0 L206.0,128.0 L230.0,112.0 L262.0,102.0Z" fill="#ff6016"/><path d="M288.0,40.0 L325.0,40.0 L325.0,72.0 L300.0,80.0 L290.0,62.0Z" fill="#ff2c10"/><ellipse cx="220" cy="142" rx="9" ry="20" fill="#c8f060"/><ellipse cx="214" cy="156" rx="5" ry="8" fill="#50c8f0"/><ellipse cx="236" cy="124" rx="10" ry="8" fill="#ffa020"/><ellipse cx="260" cy="118" rx="10" ry="8" fill="#ff8a1c"/><path d="M136.0,112.0 L175.0,116.0 L212.0,116.0 L212.0,166.0 L216.0,170.0 L200.0,200.0 L150.0,174.0 L135.0,163.0 L138.0,140.0Z" fill="#f4e838"/><ellipse cx="156" cy="124" rx="15" ry="13" fill="#ff3a12"/><ellipse cx="172" cy="128" rx="8" ry="7" fill="#ff8a18"/><ellipse cx="187" cy="136" rx="12" ry="9" fill="#ffa01c"/><ellipse cx="156" cy="156" rx="18" ry="14" fill="#58c8f0"/><ellipse cx="147" cy="152" rx="9" ry="10" fill="#2448ee"/><ellipse cx="167" cy="155" rx="8" ry="5" fill="#2a50f0"/><ellipse cx="203" cy="176" rx="7" ry="14" fill="#48b8f0"/><ellipse cx="170" cy="172" rx="10" ry="5" fill="#90e0c0"/><path d="M80.0,118.0 L138.0,114.0 L146.0,132.0 L138.0,163.0 L80.0,164.0Z" fill="#2c60f2"/><ellipse cx="104" cy="145" rx="12" ry="8" fill="#1e34ea"/><ellipse cx="95" cy="130" rx="6" ry="10" fill="#40c8f4"/><ellipse cx="128" cy="124" rx="8" ry="6" fill="#40c0f4"/><path d="M70.0,163.0 L136.0,163.0 L192.0,194.0 L210.0,250.0 L140.0,265.0 L100.0,235.0 L70.0,190.0Z" fill="#48b8f4"/><ellipse cx="145" cy="192" rx="26" ry="18" fill="#80e0c8"/><ellipse cx="150" cy="190" rx="14" ry="8" fill="#b0ec80"/><ellipse cx="170" cy="180" rx="10" ry="6" fill="#d8f050"/><ellipse cx="176" cy="228" rx="18" ry="18" fill="#3a7cf4"/><ellipse cx="100" cy="196" rx="10" ry="14" fill="#3a90f6"/><ellipse cx="113" cy="220" rx="5" ry="3" fill="#ffa020"/><ellipse cx="130" cy="232" rx="14" ry="7" fill="#58d0f0"/><ellipse cx="156" cy="246" rx="14" ry="6" fill="#40a8f4"/></g><path d="M113,150.5 L124,149 L135,150 L137,158 L134,164 L136,170 L124,172 L113,170 L112,161Z" fill="#fff8f0" stroke="#ff8a30" stroke-width="1" stroke-dasharray="2 1.5"/><path d="M155,114 L157.5,114 L158,122 L156.5,129 L155,128 L155.5,121Z" fill="#fff"/></g>
  <path d="M32.7,79.5 L35.0,75.6 L38.1,73.3 L40.4,65.5 L42.7,62.4 L50.5,61.6 L53.6,64.7 L58.2,69.4 L65.2,68.6 L71.4,68.6 L74.5,70.9 L80.7,70.9 L85.4,67.1 L91.6,64.0 L96.2,63.2 L101.6,65.5 L107.1,66.3 L113.3,61.6 L117.1,57.8 L117.8,47.4 L121.2,46.2 L127.6,46.2 L127.6,54.2 L131.4,59.9 L137.1,65.6 L139.1,58.0 L145.2,50.4 L149.8,44.3 L155.8,41.3 L158.1,35.2 L161.9,27.6 L169.5,26.1 L173.3,27.6 L175.6,23.0 L180.2,24.6 L184.7,26.1 L189.3,24.6 L196.9,26.1 L202.9,27.6 L209.0,32.2 L216.6,38.2 L221.7,41.7 L217.5,49.2 L217.5,55.1 L226.7,55.9 L228.4,57.6 L230.1,63.4 L235.1,69.3 L243.4,74.3 L256.8,77.6 L266.8,81.0 L280.2,83.5 L285.2,76.8 L291.9,69.3 L291.9,55.1 L300.3,52.6 L308.6,48.4 L315.3,49.2 L314.5,55.1 L316.2,60.9 L312.0,68.4 L308.6,75.1 L301.9,86.8 L293.6,98.5 L291.3,101.8 L282.1,114.6 L271.2,123.7 L258.4,132.8 L247.5,139.2 L234.7,147.4 L223.8,156.5 L214.7,164.7 L209.2,171.1 L203.7,176.6 L198.2,185.7 L192.8,192.0 L190.6,194.0 L187.4,201.3 L188.5,209.8 L191.7,217.2 L190.6,226.8 L194.9,235.3 L202.3,243.8 L199.1,247.0 L190.6,250.2 L180.0,253.4 L169.4,254.5 L158.7,255.5 L152.3,253.4 L144.9,254.5 L142.8,248.1 L141.7,240.6 L137.4,237.4 L126.8,235.3 L114.0,231.1 L105.5,226.8 L100.2,220.4 L97.5,218.8 L92.6,212.9 L88.2,207.0 L88.7,203.1 L86.7,196.2 L87.7,192.3 L85.7,187.4 L85.2,181.5 L84.7,177.0 L81.8,174.6 L84.7,169.7 L86.7,167.2 L91.6,164.7 L90.6,161.8 L90.2,155.9 L91.6,150.0 L93.7,146.5 L98.3,140.1 L101.9,135.5 L102.8,128.2 L102.4,121.3 L99.3,119.8 L93.1,115.1 L86.9,112.0 L79.2,113.6 L73.0,112.8 L66.8,108.1 L63.7,102.7 L57.5,98.1 L53.6,93.4 L46.6,88.8 L43.5,85.7 L37.3,81.0Z" fill="none" stroke="#111" stroke-width="1.5" stroke-linejoin="round"/>
  <path d="M137.1,65.6 L137.1,69.0 L134.9,75.8 L126.9,79.3 L128.0,83.8 L136.7,90.0 L143.4,96.7 L146.7,103.4 L153.4,106.7 L154.3,111.8 M154.3,111.8 L145.1,110.1 L138.4,113.4 L135.9,115.9 L130.0,119.3 L120.0,120.1 L110.1,120.0 L102.4,121.3 M154.3,111.8 L163.5,114.3 L170.2,116.8 L178.5,120.1 L190.2,121.8 L196.9,118.4 L206.9,115.9 L215.3,118.4 M215.3,118.4 L227.4,112.8 L238.4,109.5 L249.3,109.1 L256.6,103.6 L266.0,96.0 L274.0,89.0 L280.2,83.5 M215.3,118.4 L210.3,125.1 L208.6,130.1 L208.3,154.7 L211.0,163.8 L214.7,164.7 M135.9,115.9 L140.1,123.5 L144.2,130.1 L144.8,137.4 L142.0,143.7 L137.5,148.3 L135.7,157.4 L135.7,162.5 M91.6,162.8 L135.7,162.5 M135.7,162.5 L146.6,168.4 L157.5,173.8 L168.5,179.3 L172.1,181.1 L175.8,186.6 L183.1,190.2 L190.6,194.0 M98.5,162.8 L102.4,165.7 L103.4,172.6 L99.5,174.6 M99.5,174.6 L93.6,173.6 L90.6,177.5 L84.7,177.0 M99.5,174.6 L101.5,180.5 L97.5,186.4 L92.6,191.3 L87.7,192.3" fill="none" stroke="#111" stroke-width="0.9" stroke-linejoin="round" opacity="0.85"/>
  <path d="M194.5,195.5 L196.5,195.8 L196.2,199.5 L194.6,200.5Z M190.5,205.5 L192.5,206.0 L192.8,209.5 L190.8,209.2Z M194.5,221.5 L196.5,221.8 L196.0,224.5 L194.3,224.0Z" fill="#222" stroke="#111" stroke-width="0.8"/>
</g>
<rect x="28.3" y="371.9" width="294.5" height="319.0" fill="none" stroke="#111" stroke-width="1.8"/>
<path d="M42.8,690.9 V696.9 M95.1,690.9 V696.9 M147.3,690.9 V696.9 M199.6,690.9 V696.9 M251.8,690.9 V696.9 M304.1,690.9 V696.9 M22.8,416.5 H28.3 M322.8,416.5 H328.3 M22.8,504.7 H28.3 M322.8,504.7 H328.3 M22.8,592.8 H28.3 M322.8,592.8 H328.3 M22.8,681.0 H28.3 M322.8,681.0 H328.3" stroke="#111" stroke-width="1.6" fill="none"/><text x="60.61" y="710" textLength="67.98" lengthAdjust="spacingAndGlyphs" font-family="Liberation Sans, sans-serif" font-size="14" fill="#1e1e1e" stroke="#1e1e1e" stroke-width="0.35">30°0'0"E</text><text x="165.11" y="710" textLength="67.98" lengthAdjust="spacingAndGlyphs" font-family="Liberation Sans, sans-serif" font-size="14" fill="#1e1e1e" stroke="#1e1e1e" stroke-width="0.35">40°0'0"E</text><text x="269.61" y="710" textLength="67.98" lengthAdjust="spacingAndGlyphs" font-family="Liberation Sans, sans-serif" font-size="14" fill="#1e1e1e" stroke="#1e1e1e" stroke-width="0.35">50°0'0"E</text><text transform="translate(16.6,416.2) scale(1.19,1) rotate(-90)" x="-28.84" y="0" textLength="57.68" lengthAdjust="spacingAndGlyphs" font-family="Liberation Sans, sans-serif" font-size="14" fill="#1e1e1e" stroke="#1e1e1e" stroke-width="0.35">10°0'0"N</text><text transform="translate(347,416.2) scale(1.19,1) rotate(-90)" x="-28.84" y="0" textLength="57.68" lengthAdjust="spacingAndGlyphs" font-family="Liberation Sans, sans-serif" font-size="14" fill="#1e1e1e" stroke="#1e1e1e" stroke-width="0.35">10°0'0"N</text><text transform="translate(16.6,504.36876) scale(1.19,1) rotate(-90)" x="-20.04" y="0" textLength="40.08" lengthAdjust="spacingAndGlyphs" font-family="Liberation Sans, sans-serif" font-size="14" fill="#1e1e1e" stroke="#1e1e1e" stroke-width="0.35">0°0'0"</text><text transform="translate(347,504.36876) scale(1.19,1) rotate(-90)" x="-20.04" y="0" textLength="40.08" lengthAdjust="spacingAndGlyphs" font-family="Liberation Sans, sans-serif" font-size="14" fill="#1e1e1e" stroke="#1e1e1e" stroke-width="0.35">0°0'0"</text><text transform="translate(16.6,592.5375200000001) scale(1.19,1) rotate(-90)" x="-28.59" y="0" textLength="57.18" lengthAdjust="spacingAndGlyphs" font-family="Liberation Sans, sans-serif" font-size="14" fill="#1e1e1e" stroke="#1e1e1e" stroke-width="0.35">10°0'0"S</text><text transform="translate(347,592.5375200000001) scale(1.19,1) rotate(-90)" x="-28.59" y="0" textLength="57.18" lengthAdjust="spacingAndGlyphs" font-family="Liberation Sans, sans-serif" font-size="14" fill="#1e1e1e" stroke="#1e1e1e" stroke-width="0.35">10°0'0"S</text><text transform="translate(16.6,680.7062800000001) scale(1.19,1) rotate(-90)" x="-28.59" y="0" textLength="57.18" lengthAdjust="spacingAndGlyphs" font-family="Liberation Sans, sans-serif" font-size="14" fill="#1e1e1e" stroke="#1e1e1e" stroke-width="0.35">20°0'0"S</text>
<rect x="204.5" y="536.6" width="17.3" height="55.5" fill="url(#cbar)"/><path d="M221.8,537.1h2 M221.8,564.4h2 M221.8,591.6h2" stroke="#777" stroke-width="0.8"/><text x="229.07" y="541.4" textLength="90.26" lengthAdjust="spacingAndGlyphs" font-family="Liberation Sans, sans-serif" font-size="13.8" fill="#1e1e1e" stroke="#1e1e1e" stroke-width="0.35">High :0.840</text><text x="229.07" y="597.6" textLength="85.66" lengthAdjust="spacingAndGlyphs" font-family="Liberation Sans, sans-serif" font-size="13.8" fill="#1e1e1e" stroke="#1e1e1e" stroke-width="0.35">Low :0.101</text>
<text x="304.1" y="380.8" textLength="5.4" lengthAdjust="spacingAndGlyphs" font-family="Liberation Sans, sans-serif" font-size="5.2" font-weight="bold" fill="#555">N</text><path d="M307,383.2 L301.4,397.2 L306.5,392.5Z" fill="#111"/><path d="M307,383.2 L311.9,396.8 L306.5,392.5Z" fill="#ccd" stroke="#333" stroke-width="0.6"/>
<rect x="41.6" y="681.6" width="188.2" height="6" fill="#000"/><rect x="53.7" y="682.7" width="11.399999999999999" height="3.9" fill="#fff"/><rect x="77.7" y="682.7" width="10.800000000000002" height="3.9" fill="#fff"/><rect x="136.6" y="682.7" width="45.20000000000001" height="3.9" fill="#fff"/><text x="37.84" y="675.0" textLength="7.92" lengthAdjust="spacingAndGlyphs" font-family="Liberation Sans, sans-serif" font-size="11" fill="#444" stroke="#444" stroke-width="0.35">0</text><text x="209.54" y="675.1" textLength="36.72" lengthAdjust="spacingAndGlyphs" font-family="Liberation Sans, sans-serif" font-size="11" fill="#444" stroke="#444" stroke-width="0.35">2,000</text><text x="232.51" y="687.7" textLength="20.38" lengthAdjust="spacingAndGlyphs" font-family="Liberation Sans, sans-serif" font-size="11.5" fill="#444" stroke="#444" stroke-width="0.35">Km</text><text x="290.84" y="685.9" textLength="24.52" lengthAdjust="spacingAndGlyphs" font-family="Liberation Sans, sans-serif" font-size="16" fill="#2a2a2a" stroke="#2a2a2a" stroke-width="0.35">(c)</text>
</svg></body></html>
